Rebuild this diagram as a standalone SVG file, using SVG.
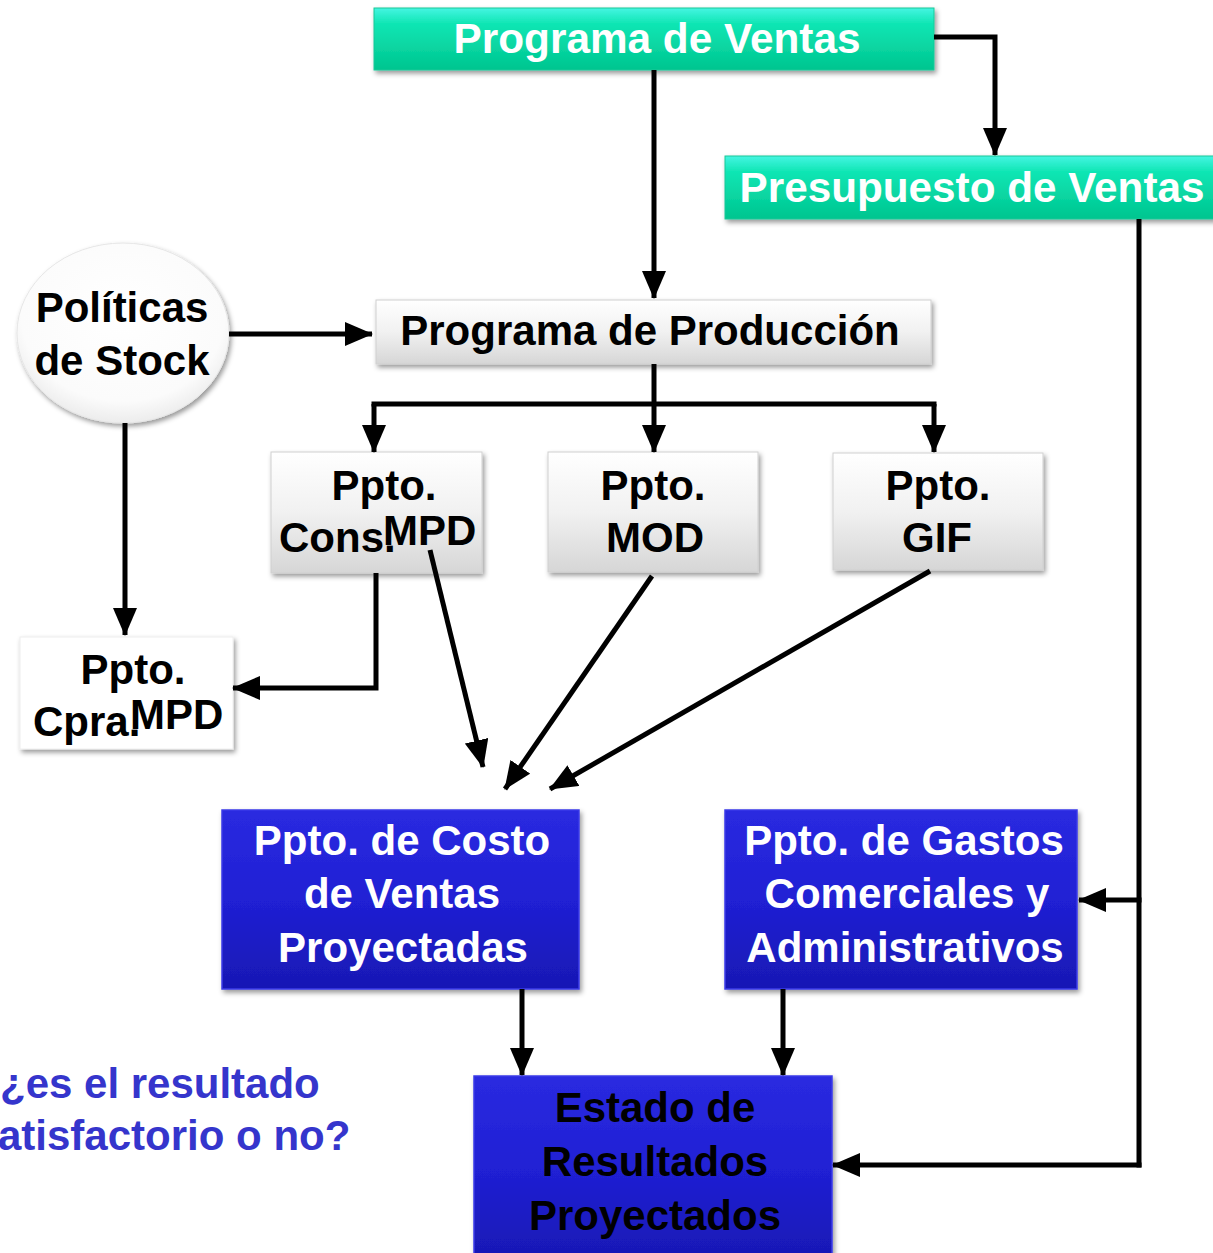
<svg xmlns="http://www.w3.org/2000/svg" width="1213" height="1253" viewBox="0 0 1213 1253">
<defs>
  <linearGradient id="gGreen" x1="0" y1="0" x2="0" y2="1">
    <stop offset="0" stop-color="#45f5e2"/>
    <stop offset="0.25" stop-color="#10e6b4"/>
    <stop offset="1" stop-color="#00c58f"/>
  </linearGradient>
  <linearGradient id="gGray" x1="0" y1="0" x2="0" y2="1">
    <stop offset="0" stop-color="#ffffff"/>
    <stop offset="0.5" stop-color="#f1f1f1"/>
    <stop offset="1" stop-color="#d6d6d6"/>
  </linearGradient>
  <linearGradient id="gBlue" x1="0" y1="0" x2="0" y2="1">
    <stop offset="0" stop-color="#2a2ae0"/>
    <stop offset="0.5" stop-color="#2020d4"/>
    <stop offset="1" stop-color="#1818b4"/>
  </linearGradient>
  <radialGradient id="gEll" cx="0.5" cy="0.4" r="0.6">
    <stop offset="0" stop-color="#ffffff"/>
    <stop offset="0.8" stop-color="#fbfbfb"/>
    <stop offset="1" stop-color="#ececec"/>
  </radialGradient>
  <filter id="sh" x="-10%" y="-10%" width="125%" height="130%">
    <feDropShadow dx="2" dy="3" stdDeviation="2.5" flood-color="#000" flood-opacity="0.4"/>
  </filter>
  <marker id="ah" markerUnits="userSpaceOnUse" markerWidth="28" markerHeight="24" viewBox="0 0 28 24" refX="27" refY="12" orient="auto">
    <path d="M0,0 L28,12 L0,24 z" fill="#000"/>
  </marker>
</defs>
<style>
  .t { font-family: "Liberation Sans", Arial, sans-serif; font-weight: bold; font-size: 42px; }
  .w { fill: #ffffff; }
  .k { fill: #000000; }
  .green { fill: url(#gGreen); stroke: #19c898; stroke-width: 1; filter: url(#sh); }
  .gray { fill: url(#gGray); stroke: #d0d0d0; stroke-width: 1; filter: url(#sh); }
  .blue { fill: url(#gBlue); stroke: #3a3ae8; stroke-width: 1.5; filter: url(#sh); }
  .c { fill: none; stroke: #000; stroke-width: 5; marker-end: url(#ah); }
  .cn { fill: none; stroke: #000; stroke-width: 5; }
</style>

<g id="programa-ventas">
  <rect class="green" x="374" y="8" width="560" height="62"/>
  <text class="t w" x="657" y="53" text-anchor="middle" font-size="44" textLength="407" lengthAdjust="spacingAndGlyphs">Programa de Ventas</text>
</g>

<g id="presupuesto-ventas">
  <rect class="green" x="725" y="156" width="490" height="63"/>
  <text class="t w" x="972" y="202" text-anchor="middle" font-size="44" textLength="465" lengthAdjust="spacingAndGlyphs">Presupuesto de Ventas</text>
</g>

<g id="programa-produccion">
  <rect class="gray" x="376" y="300" width="555" height="64"/>
  <text class="t k" x="650" y="345" text-anchor="middle">Programa de Producción</text>
</g>

<g id="politicas-stock">
  <ellipse cx="123" cy="333" rx="106" ry="90" fill="url(#gEll)" stroke="#e6e6e6" stroke-width="1" filter="url(#sh)"/>
  <text class="t k" x="122" y="322" text-anchor="middle">Políticas</text>
  <text class="t k" x="122" y="375" text-anchor="middle">de Stock</text>
</g>

<g id="ppto-cons-mpd">
  <rect class="gray" x="271" y="452" width="211" height="121"/>
  <text class="t k" x="384" y="500" text-anchor="middle">Ppto.</text>
  <text class="t k" x="279" y="552">Cons.</text>
  <text class="t k" x="383" y="545">MPD</text>
</g>

<g id="ppto-mod">
  <rect class="gray" x="548" y="452" width="210" height="120"/>
  <text class="t k" x="653" y="500" text-anchor="middle">Ppto.</text>
  <text class="t k" x="655" y="552" text-anchor="middle">MOD</text>
</g>

<g id="ppto-gif">
  <rect class="gray" x="833" y="453" width="210" height="117"/>
  <text class="t k" x="938" y="500" text-anchor="middle">Ppto.</text>
  <text class="t k" x="937" y="552" text-anchor="middle">GIF</text>
</g>

<g id="ppto-cpra-mpd">
  <rect x="20" y="637" width="213" height="112" fill="#ffffff" stroke="#eeeeee" stroke-width="1" filter="url(#sh)"/>
  <text class="t k" x="133" y="684" text-anchor="middle">Ppto.</text>
  <text class="t k" x="33" y="736">Cpra.</text>
  <text class="t k" x="130" y="729">MPD</text>
</g>

<g id="ppto-costo-ventas">
  <rect class="blue" x="222" y="810" width="357" height="179"/>
  <text class="t w" x="402" y="855" text-anchor="middle">Ppto. de Costo</text>
  <text class="t w" x="402" y="908" text-anchor="middle">de Ventas</text>
  <text class="t w" x="403" y="962" text-anchor="middle">Proyectadas</text>
</g>

<g id="ppto-gastos">
  <rect class="blue" x="725" y="810" width="352" height="179"/>
  <text class="t w" x="904" y="855" text-anchor="middle">Ppto. de Gastos</text>
  <text class="t w" x="907" y="908" text-anchor="middle">Comerciales y</text>
  <text class="t w" x="905" y="962" text-anchor="middle">Administrativos</text>
</g>

<g id="estado-resultados">
  <rect class="blue" x="474" y="1076" width="358" height="185"/>
  <text class="t k" x="655" y="1122" text-anchor="middle">Estado de</text>
  <text class="t k" x="655" y="1176" text-anchor="middle">Resultados</text>
  <text class="t k" x="655" y="1230" text-anchor="middle">Proyectados</text>
</g>

<g id="pregunta">
  <text class="t" x="0" y="1098" fill="#3535cc" font-size="41">¿es el resultado</text>
  <text class="t" x="-2" y="1150" fill="#3535cc" font-size="41">atisfactorio o no?</text>
</g>

<g id="connectors">
  <path class="c" d="M934,37 H995 V155"/>
  <path class="c" d="M654,70 V298"/>
  <path class="c" d="M229,334 H372"/>
  <path class="c" d="M125,423 V635"/>
  <path class="cn" d="M654,364 V404"/>
  <path class="cn" d="M371.5,404 H936.5"/>
  <path class="c" d="M374,404 V452"/>
  <path class="c" d="M654,404 V452"/>
  <path class="c" d="M934,404 V452"/>
  <path class="c" d="M376,573 V688 H233"/>
  <path class="c" d="M430,550 L483,767"/>
  <path class="c" d="M652,576 L505,789"/>
  <path class="c" d="M930,571 L550,789"/>
  <path class="cn" d="M1139,219 V1167.5"/>
  <path class="c" d="M1141.5,900 H1079"/>
  <path class="c" d="M1141.5,1165 H833"/>
  <path class="c" d="M522,989 V1075"/>
  <path class="c" d="M783,989 V1075"/>
</g>
</svg>
